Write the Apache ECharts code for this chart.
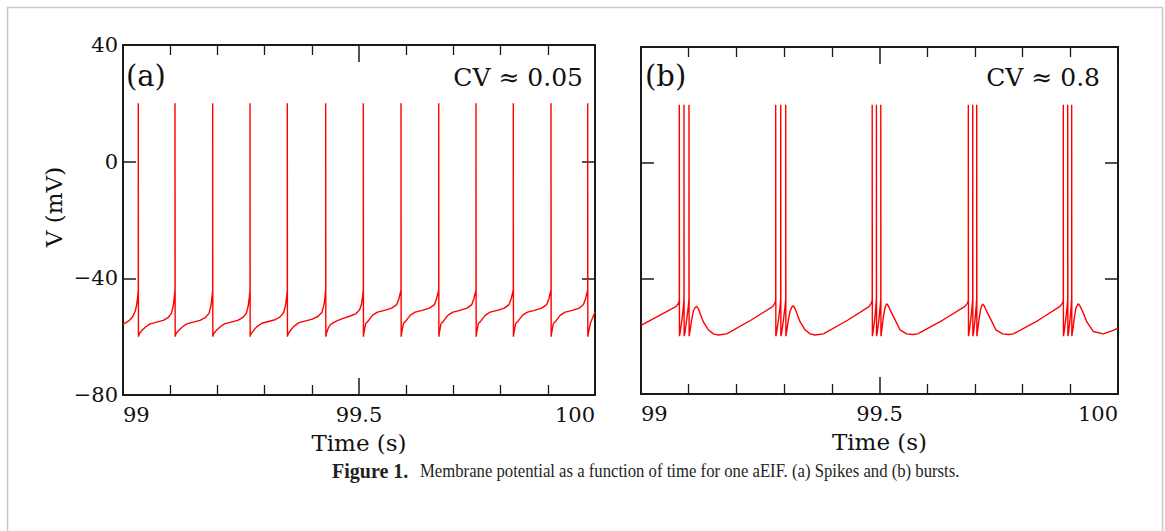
<!DOCTYPE html>
<html><head><meta charset="utf-8">
<script src="https://cdn.jsdelivr.net/npm/echarts@6/dist/echarts.min.js"></script>
<style>html,body{margin:0;padding:0;background:#fff}#c{width:1165px;height:531px}</style>
</head><body><div id="c"></div>
<script>
// ---- values ----
const xRange = [99, 100];
const yRange = [-80, 40];
const panelLabels = ['(a)', '(b)'];
const cvLabels = ['CV \u2248 0.05', 'CV \u2248 0.8'];
const xAxisTitle = 'Time (s)';
const yAxisTitle = 'V (mV)';
const captionBold = 'Figure 1.';
const captionText = 'Membrane potential as a function of time for one aEIF. (a) Spikes and (b) bursts.';

// panel (a): regular spiking, [time (s), V (mV)]
const traceA = [
 [99.0000,-55.7],[99.0080,-55.0],[99.0150,-54.2],[99.0210,-53.0],[99.0260,-51.2],[99.0290,-49.0],[99.0310,-46.5],[99.0324,-44],[99.0324,20],[99.0327,-60],
 [99.0344,-59.0],[99.0394,-58.0],[99.0444,-57.2],[99.0484,-56.6],[99.0574,-55.6],[99.0714,-55.0],[99.0854,-54.4],[99.0954,-53.5],[99.1024,-52.0],[99.1064,-49.5],[99.1087,-46.5],[99.1102,-44],[99.1102,20],[99.1105,-60],
 [99.1122,-59.0],[99.1172,-58.0],[99.1222,-57.2],[99.1262,-56.6],[99.1352,-55.6],[99.1492,-55.0],[99.1632,-54.4],[99.1742,-53.5],[99.1822,-52.0],[99.1862,-49.5],[99.1885,-46.5],[99.1900,-44],[99.1900,20],[99.1903,-60],
 [99.1920,-59.0],[99.1970,-58.0],[99.2020,-57.2],[99.2060,-56.6],[99.2150,-55.6],[99.2290,-55.0],[99.2430,-54.4],[99.2533,-53.5],[99.2613,-52.0],[99.2653,-49.5],[99.2676,-46.5],[99.2691,-44],[99.2691,20],[99.2694,-60],
 [99.2711,-59.0],[99.2761,-58.0],[99.2811,-57.0],[99.2851,-56.4],[99.2941,-55.4],[99.3081,-54.8],[99.3221,-54.2],[99.3323,-53.3],[99.3403,-51.8],[99.3443,-49.3],[99.3466,-46.5],[99.3481,-44],[99.3481,20],[99.3484,-60],
 [99.3501,-59.0],[99.3551,-57.8],[99.3601,-56.8],[99.3641,-56.2],[99.3731,-55.2],[99.3871,-54.6],[99.4011,-54.0],[99.4136,-53.0],[99.4216,-51.6],[99.4256,-49.2],[99.4279,-46.5],[99.4294,-44],[99.4294,20],[99.4297,-60],
 [99.4310,-58.8],[99.4350,-57.0],[99.4400,-55.8],[99.4450,-55.3],[99.4530,-54.6],[99.4650,-53.8],[99.4800,-53.0],[99.4930,-52.2],[99.5013,-50.8],[99.5053,-48.8],[99.5076,-46.3],[99.5091,-44],[99.5091,20],[99.5094,-60],
 [99.5106,-58.5],[99.5141,-55.5],[99.5181,-54.9],[99.5231,-53.8],[99.5291,-52.6],[99.5391,-51.6],[99.5541,-51.0],[99.5691,-50.2],[99.5800,-49.0],[99.5845,-47.0],[99.5875,-45.0],[99.5890,-44],[99.5890,20],[99.5893,-60],
 [99.5905,-58.5],[99.5940,-55.5],[99.5980,-54.9],[99.6030,-53.8],[99.6090,-52.6],[99.6190,-51.6],[99.6340,-51.0],[99.6490,-50.2],[99.6599,-49.0],[99.6644,-47.0],[99.6674,-45.0],[99.6689,-44],[99.6689,20],[99.6692,-60],
 [99.6704,-58.5],[99.6739,-55.5],[99.6779,-54.9],[99.6829,-53.8],[99.6889,-52.6],[99.6989,-51.6],[99.7139,-51.0],[99.7289,-50.2],[99.7389,-49.0],[99.7434,-47.0],[99.7464,-45.0],[99.7479,-44],[99.7479,20],[99.7482,-60],
 [99.7494,-58.5],[99.7529,-55.5],[99.7569,-54.9],[99.7619,-53.8],[99.7679,-52.6],[99.7779,-51.6],[99.7929,-51.0],[99.8079,-50.2],[99.8179,-49.0],[99.8224,-47.0],[99.8254,-45.0],[99.8269,-44],[99.8269,20],[99.8272,-60],
 [99.8284,-58.5],[99.8319,-55.5],[99.8359,-54.9],[99.8409,-53.8],[99.8469,-52.6],[99.8569,-51.6],[99.8719,-51.0],[99.8869,-50.2],[99.8978,-49.0],[99.9023,-47.0],[99.9053,-45.0],[99.9068,-44],[99.9068,20],[99.9071,-60],
 [99.9083,-58.5],[99.9118,-55.5],[99.9158,-54.9],[99.9208,-53.8],[99.9268,-52.6],[99.9368,-51.6],[99.9518,-51.0],[99.9668,-50.2],[99.9755,-49.0],[99.9800,-47.0],[99.9830,-45.0],[99.9845,-44],[99.9845,20],[99.9848,-60],
 [99.9863,-58.5],[99.9900,-55.5],[99.9950,-53.5],[100.0000,-51.5]
];

// panel (b): bursting, [time (s), V (mV)]
const traceB = [
 [99.0000,-56.3],[99.0400,-52.7],[99.0740,-49.7],[99.0790,-48.5],[99.0803,-47.5],[99.0803,20],[99.0806,-60],
 [99.0818,-59],[99.0860,-54],[99.0890,-49.5],[99.0901,-47],[99.0901,20],[99.0904,-60],[99.0919,-59],[99.0960,-54],[99.0993,-49.5],[99.1006,-47],[99.1006,20],[99.1009,-60],
 [99.1030,-58.0],[99.1060,-54.5],[99.1100,-51.2],[99.1140,-50.0],[99.1167,-49.7],[99.1210,-50.8],[99.1260,-53.0],[99.1306,-55.0],[99.1411,-57.8],[99.1516,-59.2],[99.1621,-59.6],[99.1797,-59.2],[99.2300,-54.5],[99.2760,-49.8],[99.2810,-48.5],[99.2824,-47.5],[99.2824,20],[99.2827,-60],
 [99.2839,-59],[99.2885,-54],[99.2918,-49.5],[99.2929,-47],[99.2929,20],[99.2932,-60],[99.2947,-59],[99.2990,-54],[99.3021,-49.5],[99.3034,-47],[99.3034,20],[99.3037,-60],
 [99.3058,-58.0],[99.3088,-54.5],[99.3128,-51.2],[99.3168,-49.8],[99.3195,-49.5],[99.3238,-50.8],[99.3288,-53.0],[99.3334,-55.0],[99.3439,-57.8],[99.3544,-59.2],[99.3649,-59.6],[99.3825,-59.2],[99.4330,-54.5],[99.4780,-49.8],[99.4833,-48.5],[99.4847,-47.5],[99.4847,20],[99.4850,-60],
 [99.4860,-59],[99.4900,-54],[99.4925,-49.5],[99.4935,-47],[99.4935,20],[99.4938,-60],[99.4951,-59],[99.4990,-54],[99.5016,-49.5],[99.5027,-47],[99.5027,20],[99.5030,-60],
 [99.5050,-57.5],[99.5080,-53.5],[99.5115,-50.2],[99.5150,-48.8],[99.5185,-49.5],[99.5240,-51.5],[99.5325,-54.3],[99.5430,-57.8],[99.5570,-59.2],[99.5700,-59.4],[99.5800,-59.2],[99.6320,-54.5],[99.6792,-49.7],[99.6848,-48.5],[99.6862,-47.5],[99.6862,20],[99.6865,-60],
 [99.6876,-59],[99.6915,-54],[99.6943,-49.5],[99.6954,-47],[99.6954,20],[99.6957,-60],[99.6970,-59],[99.7005,-54],[99.7028,-49.5],[99.7038,-47],[99.7038,20],[99.7041,-60],
 [99.7062,-57.5],[99.7092,-53.5],[99.7127,-50.2],[99.7160,-48.9],[99.7195,-49.5],[99.7250,-51.5],[99.7335,-54.3],[99.7440,-57.8],[99.7580,-59.2],[99.7710,-59.4],[99.7810,-59.2],[99.8330,-54.5],[99.8785,-49.7],[99.8840,-48.5],[99.8853,-47.5],[99.8853,20],[99.8856,-60],
 [99.8867,-59],[99.8906,-54],[99.8935,-49.5],[99.8946,-47],[99.8946,20],[99.8949,-60],[99.8962,-59],[99.8996,-54],[99.9019,-49.5],[99.9029,-47],[99.9029,20],[99.9032,-60],
 [99.9055,-57.5],[99.9085,-53.5],[99.9120,-50.2],[99.9166,-48.8],[99.9200,-49.5],[99.9260,-51.5],[99.9344,-55.0],[99.9483,-58.4],[99.9692,-59.2],[99.9900,-58.0],[100.0000,-57.2]
];

// ---- chart ----
const AX = '#1a1a1a';
const SERIF = 'DejaVu Serif';
const CAP = 'Liberation Serif';
const grids = [
  {left: 123, top: 45, width: 472, height: 350},
  {left: 641, top: 47, width: 477, height: 347}
];
function xAx(g, pos, withLabels) {
  return {
    type: 'value', gridIndex: g, position: pos, min: xRange[0], max: xRange[1], interval: 0.5,
    axisLine: {show: true, onZero: false, lineStyle: {color: AX, width: 2}},
    axisTick: {show: true, inside: true, length: 17, lineStyle: {color: AX, width: 1.5}},
    minorTick: {show: true, splitNumber: 5, length: 10, lineStyle: {color: AX, width: 1.3}},
    splitLine: {show: false}, minorSplitLine: {show: false},
    axisLabel: {show: withLabels, color: '#111', fontFamily: SERIF, fontSize: 21, margin: 9,
      alignMinLabel: 'left', alignMaxLabel: 'right'},
    name: withLabels ? xAxisTitle : '', nameLocation: 'middle', nameGap: 36,
    nameTextStyle: {color: '#111', fontFamily: SERIF, fontSize: 23}
  };
}
function yAx(g, pos, withLabels) {
  return {
    type: 'value', gridIndex: g, position: pos, min: yRange[0], max: yRange[1], interval: 40,
    axisLine: {show: true, onZero: false, lineStyle: {color: AX, width: 2}},
    axisTick: {show: true, inside: true, length: 13, lineStyle: {color: AX, width: 1.5}},
    splitLine: {show: false},
    axisLabel: {show: withLabels, color: '#111', fontFamily: SERIF, fontSize: 21, margin: 5,
      formatter: v => String(v).replace('-', '\u2212')}
  };
}
function label(x, y, text, size, align, family, extra, weight, color) {
  return Object.assign({type: 'text', x: x, y: y, silent: true, style: {
    text: text, fontFamily: family, fontSize: size, fontWeight: weight || 'normal', fill: color || '#111',
    textAlign: align, textVerticalAlign: 'middle'}}, extra || {});
}
const chart = echarts.init(document.getElementById('c'), null, {renderer: 'svg'});
chart.setOption({
  animation: false,
  backgroundColor: '#fff',
  grid: grids,
  xAxis: [xAx(0, 'bottom', true), xAx(0, 'top', false), xAx(1, 'bottom', true), xAx(1, 'top', false)],
  yAxis: [yAx(0, 'left', true), yAx(0, 'right', false), yAx(1, 'left', false), yAx(1, 'right', false)],
  series: [
    {type: 'line', xAxisIndex: 0, yAxisIndex: 0, data: traceA, showSymbol: false, clip: true,
     lineStyle: {color: '#ff0000', width: 1.4}, silent: true},
    {type: 'line', xAxisIndex: 2, yAxisIndex: 2, data: traceB, showSymbol: false, clip: true,
     lineStyle: {color: '#ff0000', width: 1.4}, silent: true}
  ],
  graphic: [
    {type: 'rect', shape: {x: 7.5, y: 7.5, width: 1155, height: 540}, style: {fill: 'none', stroke: '#c8c8c8', lineWidth: 1.5}, silent: true},
    label(126, 76, panelLabels[0], 29, 'left', SERIF),
    label(645, 76, panelLabels[1], 29, 'left', SERIF),
    label(583, 77, cvLabels[0], 25, 'right', SERIF),
    label(1100, 77, cvLabels[1], 25, 'right', SERIF),
    label(54, 207, yAxisTitle, 23, 'center', SERIF, {rotation: Math.PI / 2}),
    label(332, 471, captionBold, 20, 'left', CAP, null, 'bold', '#231f20'),
    label(420, 471, captionText, 19, 'left', CAP, {scaleX: 0.88}, 'normal', '#231f20')
  ]
});
</script></body></html>
